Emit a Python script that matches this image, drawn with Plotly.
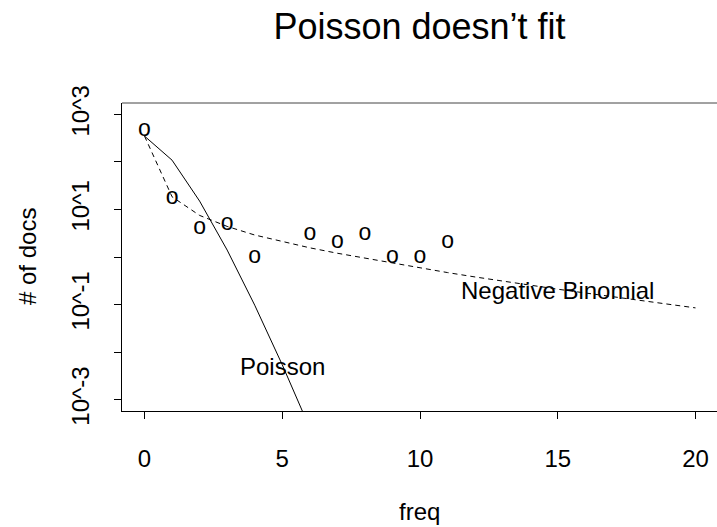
import math
import plotly.graph_objects as go

# observed counts (points drawn as "o")
obs_x = [0, 1, 2, 3, 4, 6, 7, 8, 9, 10, 11]
obs_y = [460, 17, 4, 5, 1, 3, 2, 3, 1, 1, 2]

# Poisson fit (solid)
pois_x = [0, 1, 2, 3, 4, 5, 6]
pois_y = [350, 109, 15, 1.4, 0.097, 0.0054, 0.00025]

# Negative binomial fit (dashed)
nb_x = list(range(0, 21))
nb_y = [350, 18.5, 7.5, 4.4, 2.9, 2.1, 1.56, 1.2, 0.95, 0.74, 0.58,
        0.47, 0.38, 0.31, 0.26, 0.21, 0.175, 0.145, 0.12, 0.1, 0.085]

x_ticks = [0, 5, 10, 15, 20]
y_tick_vals = [1e-3, 1e-2, 1e-1, 1, 10, 100, 1000]
y_tick_text = ["10^-3", "", "10^-1", "", "10^1", "", "10^3"]

FONT = "Liberation Sans, Arial, Helvetica, sans-serif"
FS = 24

fig = go.Figure()
fig.add_trace(go.Scatter(x=pois_x, y=pois_y, mode="lines",
                         line=dict(color="black", width=1),
                         showlegend=False, hoverinfo="skip"))
fig.add_trace(go.Scatter(x=nb_x, y=nb_y, mode="lines",
                         line=dict(color="black", width=1, dash="5px,4px"),
                         showlegend=False, hoverinfo="skip"))
fig.add_trace(go.Scatter(x=obs_x, y=obs_y, mode="text", text=["o"] * len(obs_x),
                         textposition="middle center",
                         textfont=dict(family=FONT, size=23, color="black"),
                         showlegend=False, hoverinfo="skip"))

fig.add_annotation(x=5, y=math.log10(0.005), text="Poisson", showarrow=False,
                   xanchor="center", yanchor="middle",
                   font=dict(family=FONT, size=FS, color="black"))
fig.add_annotation(x=15, y=math.log10(0.2), text="Negative Binomial", showarrow=False,
                   xanchor="center", yanchor="middle",
                   font=dict(family=FONT, size=FS, color="black"))

# axis titles
fig.add_annotation(xref="paper", yref="paper", x=(27 - 122) / 595, y=0.5,
                   text="# of docs", textangle=-90, showarrow=False,
                   xanchor="center", yanchor="middle",
                   font=dict(family=FONT, size=FS, color="black"))
fig.add_annotation(xref="paper", yref="paper", x=0.5, y=(411 - 511) / 308,
                   text="freq", showarrow=False,
                   xanchor="center", yanchor="middle",
                   font=dict(family=FONT, size=FS, color="black"))

# top border line
fig.add_shape(type="line", xref="paper", yref="paper", x0=0, x1=1, y0=1, y1=1,
              line=dict(color="#444", width=1))

fig.update_layout(
    width=717, height=527,
    margin=dict(l=122, r=0, t=103, b=116),
    paper_bgcolor="white", plot_bgcolor="white",
    font=dict(family=FONT, size=FS, color="black"),
    title=dict(text="Poisson doesn\u2019t fit", x=0.5, xref="paper",
               y=1 - 26 / 527, yref="container", xanchor="center", yanchor="middle",
               font=dict(family=FONT, size=36, color="black")),
    xaxis=dict(range=[-0.817, 20.78], tickvals=x_ticks, ticktext=[str(v) for v in x_ticks],
               showgrid=False, zeroline=False, showline=True, linecolor="black", linewidth=1,
               ticks="outside", ticklen=7, tickcolor="black", tickwidth=1,
               ticklabelstandoff=19, tickfont=dict(family=FONT, size=FS, color="black")),
    yaxis=dict(type="log", range=[-3.24, 3.24], tickvals=y_tick_vals, ticktext=y_tick_text,
               tickangle=-90,
               showgrid=False, zeroline=False, showline=True, linecolor="black", linewidth=1,
               ticks="outside", ticklen=7, tickcolor="black", tickwidth=1,
               ticklabelstandoff=15, tickfont=dict(family=FONT, size=FS, color="black")),
)

fig.write_html("out.html")
